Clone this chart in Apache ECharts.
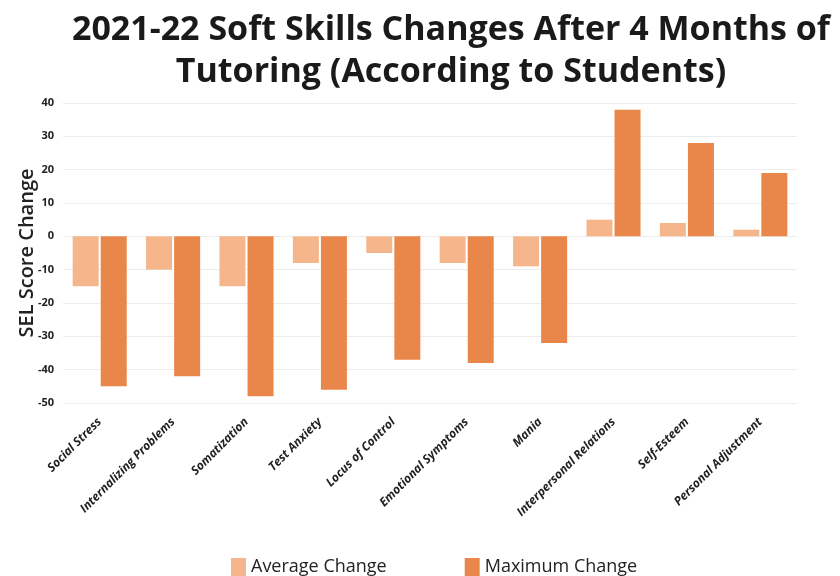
<!DOCTYPE html>
<html>
<head>
<meta charset="utf-8">
<script src="https://cdn.jsdelivr.net/npm/echarts@6/dist/echarts.min.js"></script>
<style>
  html, body { margin: 0; padding: 0; background: #fff; }
  #main { width: 840px; height: 576px; }
</style>
</head>
<body>
<div id="main"></div>
<script>
// categories and values
var categories = ['Social Stress', 'Internalizing Problems', 'Somatization', 'Test Anxiety',
  'Locus of Control', 'Emotional Symptoms', 'Mania', 'Interpersonal Relations',
  'Self-Esteem', 'Personal Adjustment'];
var averageChange = [-15, -10, -15, -8, -5, -8, -9, 5, 4, 2];
var maximumChange = [-45, -42, -48, -46, -37, -38, -32, 38, 28, 19];
var yTicks = [-50, -40, -30, -20, -10, 0, 10, 20, 30, 40];

var font = 'Open Sans';
var chart = echarts.init(document.getElementById('main'));

chart.setOption({
  animation: false,
  color: ['#F6B68C', '#E9874A'],
  title: {
    text: '2021-22 Soft Skills Changes After 4 Months of\nTutoring (According to Students)',
    left: 446,
    top: 4,
    textAlign: 'center',
    textStyle: {
      fontFamily: font,
      fontWeight: 'bold',
      fontSize: 34,
      lineHeight: 42,
      color: '#1a1a1a'
    }
  },
  legend: {
    top: 553,
    left: 226,
    itemWidth: 15,
    itemHeight: 18,
    itemGap: 78,
    icon: 'rect',
    textStyle: { fontFamily: font, fontSize: 18, color: '#222' },
    data: ['Average Change', 'Maximum Change']
  },
  grid: { left: 63, right: 43, top: 103, bottom: 173 },
  xAxis: {
    type: 'category',
    data: categories,
    axisLine: { show: false },
    axisTick: { show: false },
    axisLabel: {
      interval: 0,
      rotate: 45,
      margin: 17,
      fontFamily: font,
      fontSize: 12,
      fontWeight: 'bold',
      fontStyle: 'italic',
      color: '#222'
    }
  },
  yAxis: {
    type: 'value',
    name: 'SEL Score Change',
    nameLocation: 'middle',
    nameGap: 26,
    nameMoveOverlap: false,
    nameTextStyle: { fontFamily: font, fontSize: 20, fontWeight: 600, color: '#222' },
    min: yTicks[0],
    max: yTicks[yTicks.length - 1],
    interval: 10,
    axisLine: { show: false },
    axisTick: { show: false },
    axisLabel: { fontFamily: font, fontSize: 11, fontWeight: 'bold', color: '#222', margin: 9 },
    splitLine: { lineStyle: { color: '#ececec' } }
  },
  series: [
    {
      name: 'Average Change',
      type: 'bar',
      data: averageChange,
      barWidth: 26,
      barGap: '8%'
    },
    {
      name: 'Maximum Change',
      type: 'bar',
      data: maximumChange,
      barWidth: 26
    }
  ]
});
</script>
</body>
</html>
